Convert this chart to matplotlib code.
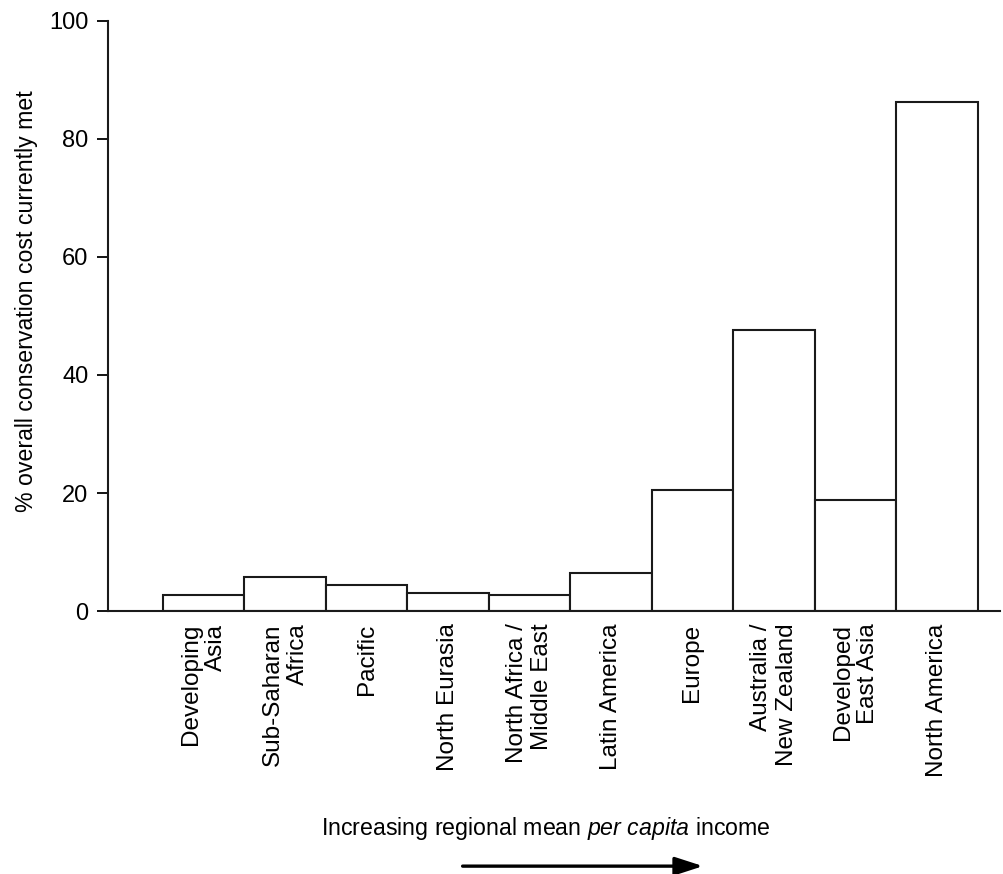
import matplotlib
matplotlib.use('Agg')
import matplotlib.pyplot as plt

plt.rcParams['font.family'] = 'Liberation Sans'
plt.rcParams['mathtext.fontset'] = 'custom'
plt.rcParams['mathtext.rm'] = 'Liberation Sans'
plt.rcParams['mathtext.it'] = 'Liberation Sans:italic'

# regions ordered by increasing mean per capita income
regions = ['Developing\nAsia', 'Sub-Saharan\nAfrica', 'Pacific', 'North Eurasia',
           'North Africa /\nMiddle East', 'Latin America', 'Europe',
           'Australia /\nNew Zealand', 'Developed\nEast Asia', 'North America']
pct_met = [2.7, 5.8, 4.4, 3.0, 2.7, 6.4, 20.5, 47.7, 18.8, 86.2]
yticks = [0, 20, 40, 60, 80, 100]

fig = plt.figure(figsize=(10.04, 8.74), dpi=100)
ax = fig.add_axes([0.1076, 0.3009, 0.888, 0.6751])

x = list(range(len(regions)))
ax.bar(x, pct_met, width=1.0, color='white', edgecolor='#1a1a1a', linewidth=1.5)

ax.set_xlim(-1.175, 9.77)
ax.set_ylim(0, 100)
ax.set_yticks(yticks)
ax.set_xticks(x)
ax.set_xticklabels(regions, rotation=90, va='top', ha='center', multialignment='right')
ax.tick_params(axis='x', length=0, pad=9, labelsize=17.5)
ax.tick_params(axis='y', direction='out', length=8, width=1.3, pad=6, labelsize=17)

for s in ['top', 'right']:
    ax.spines[s].set_visible(False)
for s in ['left', 'bottom']:
    ax.spines[s].set_linewidth(1.5)
    ax.spines[s].set_color('#1a1a1a')

ax.set_ylabel('% overall conservation cost currently met', fontsize=16.7)
ax.yaxis.set_label_coords(-0.078, 0.525)

fig.text(0.544, 0.0526, r'Increasing regional mean $per\ capita$ income',
         ha='center', va='center', fontsize=16.7)
ax.annotate('', xy=(0.703, 0.009), xytext=(0.458, 0.009),
            xycoords='figure fraction', textcoords='figure fraction',
            arrowprops=dict(arrowstyle='-|>,head_length=1.7,head_width=0.55',
                            color='black', lw=2.4))

fig.savefig('out.png', dpi=100)
